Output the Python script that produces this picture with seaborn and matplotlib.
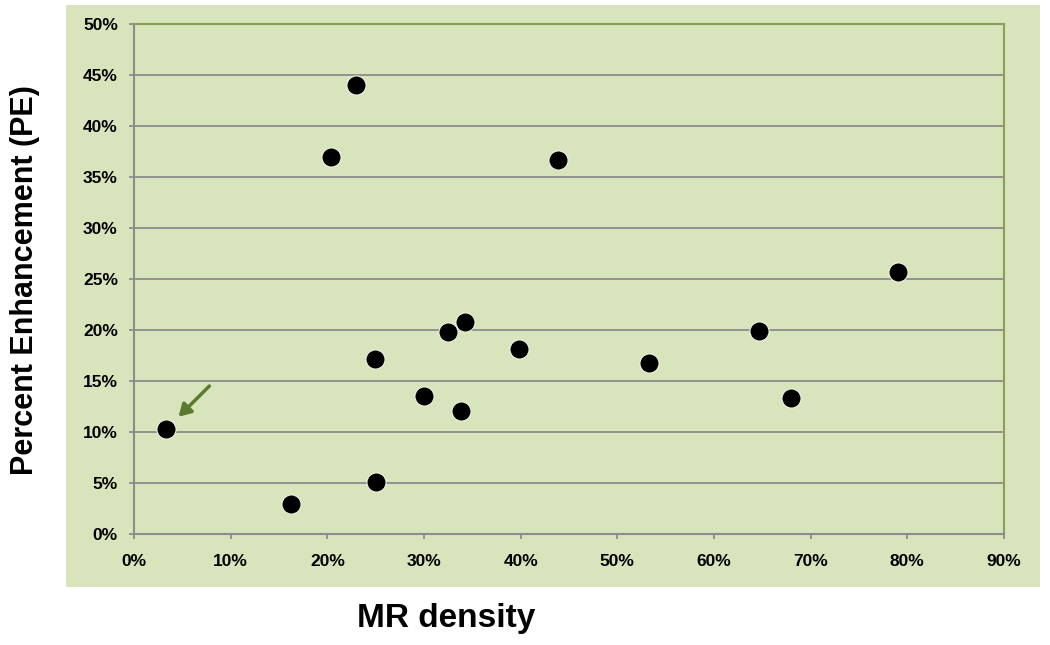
import matplotlib
matplotlib.use("Agg")
import matplotlib.pyplot as plt
from matplotlib.patches import Rectangle
from matplotlib.ticker import PercentFormatter, MultipleLocator
import seaborn as sns
import pandas as pd

mr_density = [3.3, 16.2, 20.4, 23.0, 24.9, 25.0, 30.0, 32.5, 33.8, 34.2, 39.8, 43.9, 53.3, 64.7, 68.0, 79.0]
percent_enh = [10.3, 2.9, 37.0, 44.0, 17.2, 5.1, 13.5, 19.8, 12.1, 20.8, 18.1, 36.7, 16.8, 19.9, 13.3, 25.7]

df = pd.DataFrame({"MR density": mr_density, "PE": percent_enh})

sns.set_theme(style="white")
plt.rcParams["font.family"] = ["Liberation Sans", "DejaVu Sans"]
plt.rcParams["text.color"] = "black"
plt.rcParams["xtick.color"] = "black"
plt.rcParams["ytick.color"] = "black"

W, H = 1050, 645
fig = plt.figure(figsize=(W / 100, H / 100), dpi=100)
bg = "#d8e4bc"
fig.patches.append(Rectangle((66 / W, 1 - 587 / H), (1040 - 66) / W, (587 - 5) / H,
                             transform=fig.transFigure, facecolor=bg, edgecolor="none", zorder=-5))

ax = fig.add_axes([134 / W, 1 - 534 / H, (1004 - 134) / W, (534 - 24) / H])
ax.set_zorder(2)
ax.set_facecolor(bg)

sns.scatterplot(data=df, x="MR density", y="PE", ax=ax, s=190, color="black",
                edgecolor="#f0f4e4", linewidth=0.8, zorder=5, legend=False)

ax.set_xlim(0, 90)
ax.set_ylim(0, 50)
ax.xaxis.set_major_locator(MultipleLocator(10))
ax.yaxis.set_major_locator(MultipleLocator(5))
ax.xaxis.set_major_formatter(PercentFormatter(decimals=0))
ax.yaxis.set_major_formatter(PercentFormatter(decimals=0))

ax.grid(axis="y", color="#8c8c8c", linewidth=1.3)
ax.set_axisbelow(True)
for s in ["left", "bottom"]:
    ax.spines[s].set_color("#8c8c8c")
    ax.spines[s].set_linewidth(1.5)
for s in ["top", "right"]:
    ax.spines[s].set_color("#8aa05a")
    ax.spines[s].set_linewidth(1.5)

ax.tick_params(axis="both", which="major", length=3.6, width=1.3, color="#8c8c8c",
               labelcolor="black", labelsize=12.5, left=True, bottom=True)
ax.tick_params(axis="x", pad=11)
ax.tick_params(axis="y", pad=8)
for lab in ax.get_xticklabels() + ax.get_yticklabels():
    lab.set_fontweight("bold")

ax.set_xlabel("")
ax.set_ylabel("")
fig.text(446 / W, 1 - 619 / H, "MR density", ha="center", va="center",
         fontsize=24, fontweight="bold", color="black")
fig.text(25 / W, 1 - 280 / H, "Percent Enhancement (PE)", ha="center", va="center",
         rotation=90, fontsize=22, fontweight="bold", color="black")

ax.annotate("", xy=(4.4, 11.3), xytext=(8.0, 14.7),
            arrowprops=dict(arrowstyle="-|>,head_length=0.6,head_width=0.35",
                            color="#5a7a2e", lw=2.5))

fig.savefig("out.png", dpi=100)
